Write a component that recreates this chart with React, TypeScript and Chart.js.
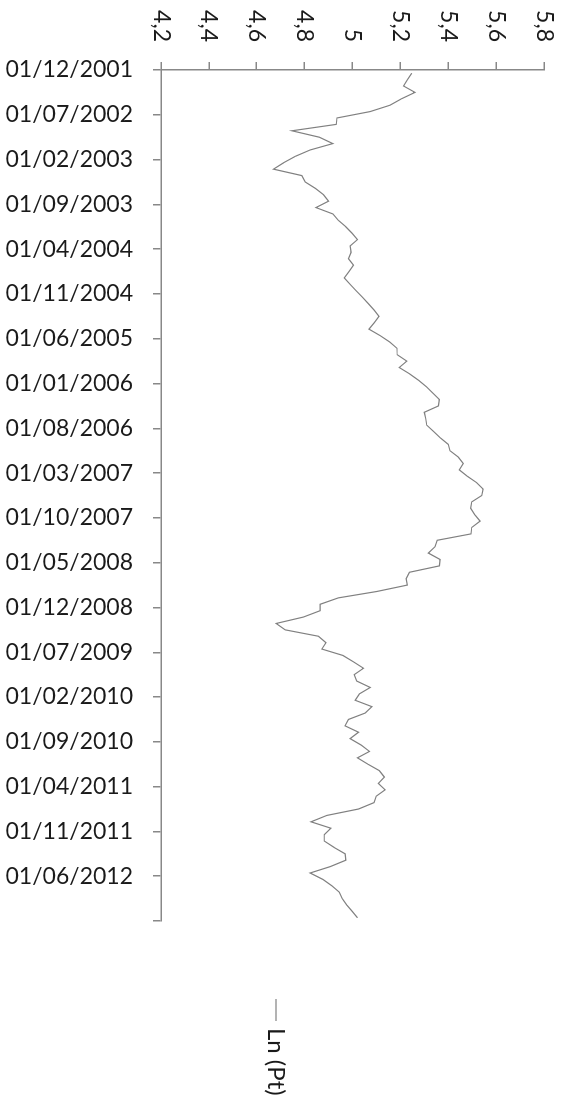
import React, { useEffect, useRef } from "react";
import { Chart, registerables } from "chart.js";

Chart.register(...registerables);

// Monthly Ln(Pt) values, 12/2001 .. 12/2012
const values: number[] = [
  5.248, 5.230, 5.213, 5.261, 5.205, 5.157, 5.074, 4.935, 4.932, 4.747,
  4.861, 4.918, 4.823, 4.761, 4.712, 4.670, 4.788, 4.802, 4.845, 4.879,
  4.900, 4.847, 4.918, 4.941, 4.972, 4.998, 5.021, 4.990, 4.994, 4.983,
  5.004, 4.985, 4.966, 4.990, 5.015, 5.041, 5.066, 5.090, 5.111, 5.091,
  5.069, 5.115, 5.155, 5.186, 5.187, 5.227, 5.195, 5.239, 5.276, 5.309,
  5.336, 5.363, 5.359, 5.300, 5.306, 5.310, 5.339, 5.367, 5.400, 5.407,
  5.442, 5.463, 5.446, 5.480, 5.519, 5.546, 5.540, 5.498, 5.494, 5.511,
  5.533, 5.498, 5.495, 5.354, 5.345, 5.317, 5.366, 5.363, 5.238, 5.224,
  5.229, 5.102, 4.941, 4.865, 4.865, 4.795, 4.681, 4.719, 4.858, 4.889,
  4.872, 4.960, 5.004, 5.046, 5.007, 5.018, 5.074, 5.029, 5.011, 5.081,
  5.053, 4.983, 4.969, 5.025, 4.990, 5.036, 5.071, 5.021, 5.065, 5.112,
  5.133, 5.108, 5.136, 5.099, 5.090, 5.025, 4.893, 4.827, 4.910, 4.882,
  4.882, 4.923, 4.969, 4.972, 4.907, 4.823, 4.876, 4.914, 4.945, 4.957,
  4.976, 4.999, 5.021,
];

// Date tick labels, one every 7 months
const tickLabels: string[] = [
  "01/12/2001", "01/07/2002", "01/02/2003", "01/09/2003", "01/04/2004",
  "01/11/2004", "01/06/2005", "01/01/2006", "01/08/2006", "01/03/2007",
  "01/10/2007", "01/05/2008", "01/12/2008", "01/07/2009", "01/02/2010",
  "01/09/2010", "01/04/2011", "01/11/2011", "01/06/2012",
];

const seriesName = "Ln (Pt)";
const monthsOnAxis = 133;
const monthsPerTick = 7;
const valueMin = 4.2;
const valueMax = 5.8;
const valueStep = 0.2;

const FONT = "Lato";
const TEXT = "#1a1a1a";
const AXIS = "#888888";
const LINE = "#808080";

const legendPlugin = {
  id: "rotLegend",
  afterDraw(chart: any) {
    const ds = chart.data.datasets[0];
    const ctx = chart.ctx as CanvasRenderingContext2D;
    const area = chart.chartArea;
    const cy = 290;
    const x0 = area.right + 78;
    ctx.save();
    ctx.strokeStyle = ds.borderColor;
    ctx.lineWidth = 1.2;
    ctx.beginPath();
    ctx.moveTo(x0, cy);
    ctx.lineTo(x0 + 22, cy);
    ctx.stroke();
    ctx.fillStyle = TEXT;
    ctx.font = `24px ${FONT}`;
    ctx.textAlign = "left";
    ctx.textBaseline = "middle";
    ctx.fillText(ds.label, x0 + 29, cy);
    ctx.restore();
  },
};

export default function App() {
  const ref = useRef<HTMLCanvasElement | null>(null);

  useEffect(() => {
    if (!ref.current) return;
    const chart = new Chart(ref.current, {
      type: "line",
      data: {
        datasets: [
          {
            label: seriesName,
            data: values.map((y, i) => ({ x: i + 0.5, y })),
            borderColor: LINE,
            borderWidth: 1.2,
            pointRadius: 0,
            tension: 0,
            fill: false,
          },
        ],
      },
      options: {
        animation: false,
        responsive: false,
        maintainAspectRatio: false,
        devicePixelRatio: 1,
        layout: { padding: { top: 22, right: 181, left: 0, bottom: 0 } },
        plugins: {
          legend: { display: false },
          tooltip: { enabled: false },
        },
        scales: {
          x: {
            type: "linear",
            position: "bottom",
            min: 0,
            max: monthsOnAxis,
            afterFit: (s: any) => {
              s.height = 161;
              s.paddingLeft = 0;
              s.paddingRight = 0;
            },
            ticks: {
              stepSize: monthsPerTick,
              autoSkip: false,
              minRotation: 90,
              maxRotation: 90,
              padding: 20,
              color: TEXT,
              font: { family: FONT, size: 23 },
              callback: (v: any) => tickLabels[Math.round(Number(v) / monthsPerTick)] ?? "",
            },
            grid: {
              display: true,
              drawOnChartArea: false,
              drawTicks: true,
              tickLength: 8,
              color: AXIS,
              lineWidth: 1.5,
            },
            border: { display: true, color: AXIS, width: 1.5 },
          },
          y: {
            type: "linear",
            position: "left",
            min: valueMin,
            max: valueMax,
            afterFit: (s: any) => {
              s.width = 70;
              s.paddingTop = 0;
              s.paddingBottom = 0;
            },
            ticks: {
              stepSize: valueStep,
              padding: 20,
              color: TEXT,
              font: { family: FONT, size: 23 },
              callback: (v: any) => String(Math.round(Number(v) * 10) / 10).replace(".", ","),
            },
            grid: {
              display: true,
              drawOnChartArea: false,
              drawTicks: true,
              tickLength: 8,
              color: AXIS,
              lineWidth: 1.5,
            },
            border: { display: true, color: AXIS, width: 1.5 },
          },
        },
      },
      plugins: [legendPlugin],
    } as any);
    return () => chart.destroy();
  }, []);

  return (
    <div
      style={{
        position: "absolute",
        left: 0,
        top: 0,
        width: 566,
        height: 1102,
        overflow: "hidden",
        background: "#ffffff",
      }}
    >
      <canvas
        ref={ref}
        width={1102}
        height={566}
        style={{
          position: "absolute",
          left: 0,
          top: 0,
          width: 1102,
          height: 566,
          transformOrigin: "0 0",
          transform: "translate(566px, 0px) rotate(90deg)",
        }}
      />
    </div>
  );
}
